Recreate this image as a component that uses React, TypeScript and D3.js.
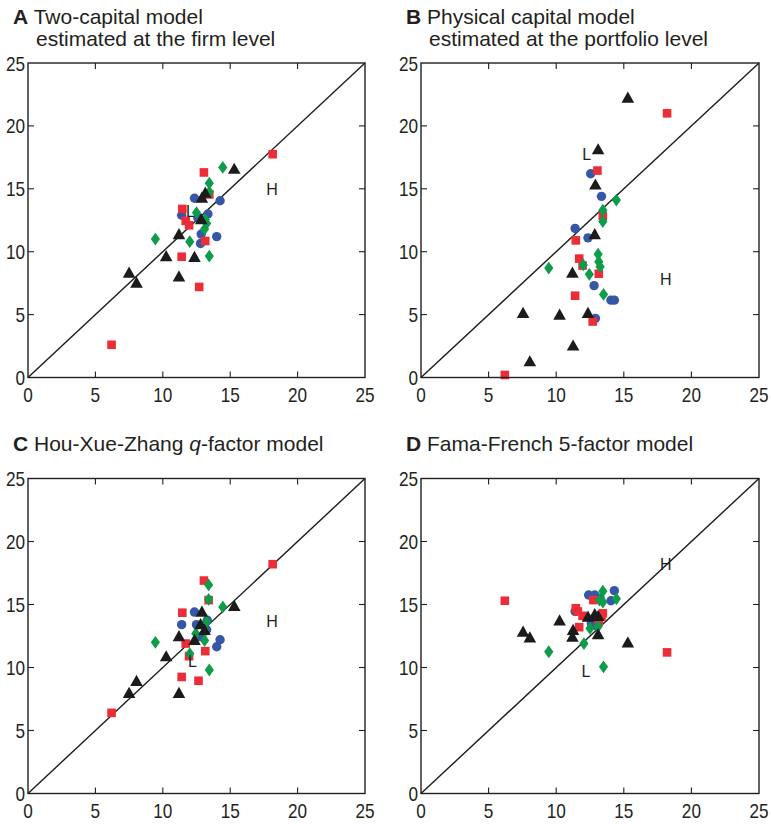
import React from 'react';
import * as d3 from 'd3';

type P = [number, number];

const tickValues = [0, 5, 10, 15, 20, 25];

// Panel A: Two-capital model, firm level
const aTriangles: P[] = [[15.3,16.6],[13.15,14.7],[12.9,14.3],[12.85,12.6],[11.2,11.4],[10.25,9.65],[12.35,9.6],[7.5,8.35],[8.05,7.55],[11.2,8.05]];
const aSquares: P[] = [[18.15,17.75],[13.05,16.3],[11.45,13.4],[11.7,12.45],[11.95,12.1],[13.45,14.55],[13.15,10.85],[11.4,9.6],[12.7,7.2],[6.2,2.6]];
const aCircles: P[] = [[12.35,14.25],[14.25,14.05],[11.4,12.9],[13.35,13.0],[12.6,12.7],[12.85,11.4],[14.0,11.2],[12.8,10.65]];
const aDiamonds: P[] = [[14.45,16.7],[13.45,15.45],[13.45,14.75],[12.5,13.1],[13.15,12.55],[13.25,12.25],[13.1,11.8],[9.45,11.0],[12.0,10.8],[13.45,9.65]];
const aLabels: [string, number, number][] = [['L',12.05,13.2],['H',18.1,14.95]];

// Panel B: Physical capital model, portfolio level
const bTriangles: P[] = [[15.3,22.25],[13.1,18.15],[12.9,15.35],[12.85,11.4],[11.2,8.35],[7.55,5.15],[10.25,5.0],[12.35,5.15],[11.25,2.55],[8.05,1.3]];
const bSquares: P[] = [[18.2,21.0],[13.05,16.45],[13.45,12.85],[11.45,10.9],[11.7,9.45],[13.15,8.25],[11.4,6.5],[12.7,4.45],[6.2,0.2],[11.95,8.9]];
const bCircles: P[] = [[12.55,16.2],[13.35,14.4],[11.4,11.85],[12.35,11.1],[12.8,7.3],[14.05,6.15],[14.3,6.15],[12.9,4.7]];
const bDiamonds: P[] = [[14.45,14.1],[13.45,13.3],[13.45,12.4],[9.45,8.7],[12.0,8.95],[12.45,8.2],[13.1,9.8],[13.15,9.2],[13.25,8.8],[13.5,6.6]];
const bLabels: [string, number, number][] = [['L',12.25,17.75],['H',18.1,7.8]];

// Panel C: Hou-Xue-Zhang q-factor model
const cTriangles: P[] = [[15.3,14.9],[12.9,14.45],[12.8,13.45],[13.1,13.0],[12.35,12.2],[11.2,12.5],[10.25,10.9],[8.05,8.95],[7.5,8.0],[11.2,8.0]];
const cSquares: P[] = [[18.15,18.2],[13.05,16.9],[13.4,15.35],[11.45,14.35],[11.7,11.9],[11.95,10.9],[13.15,11.3],[11.4,9.25],[12.65,8.95],[6.2,6.4]];
const cCircles: P[] = [[12.35,14.4],[11.4,13.4],[12.5,13.4],[13.3,13.75],[14.25,12.2],[14.0,11.65],[12.75,12.45],[13.25,13.0]];
const cDiamonds: P[] = [[13.4,16.55],[13.4,15.4],[14.45,14.8],[13.25,13.65],[12.45,12.7],[13.1,12.15],[9.45,12.0],[12.0,11.1],[13.45,9.8],[13.15,12.9]];
const cLabels: [string, number, number][] = [['L',12.2,10.5],['H',18.1,13.7]];

// Panel D: Fama-French 5-factor model
const dTriangles: P[] = [[7.55,12.85],[8.05,12.4],[10.25,13.75],[11.25,13.0],[11.2,12.45],[12.35,14.05],[12.85,14.25],[13.1,14.1],[13.1,12.65],[15.3,12.0]];
const dSquares: P[] = [[6.2,15.3],[18.2,11.2],[12.75,15.35],[11.45,14.7],[11.6,14.45],[11.95,14.1],[13.35,14.05],[11.7,13.2],[13.15,13.65],[13.45,14.3]];
const dCircles: P[] = [[12.4,15.75],[12.85,15.75],[14.3,16.1],[14.05,15.3],[11.4,14.45],[13.25,15.5],[13.0,13.3],[12.6,13.5]];
const dDiamonds: P[] = [[13.45,16.05],[13.2,15.35],[13.45,15.2],[14.45,15.45],[12.5,13.1],[13.1,13.25],[12.05,11.9],[9.45,11.25],[13.5,10.05]];
const dLabels: [string, number, number][] = [['L',12.2,9.75],['H',18.1,18.25]];

const RED = '#ec2d37';
const BLUE = '#3656a6';
const GREEN = '#0d9c4a';
const BLACK = '#1b1b1b';
const INK = '#231f20';
const FONT = '"Liberation Sans", Arial, Helvetica, sans-serif';

interface PanelDef {
  letter: string;
  titleParts: { t: string; italic?: boolean }[];
  line2?: string;
  left: number; right: number; top: number; bottom: number;
  titleX: number; titleY: number;
  tri: P[]; sq: P[]; circ: P[]; dia: P[];
  labels: [string, number, number][];
}

const panels: PanelDef[] = [
  { letter: 'A', titleParts: [{ t: ' Two-capital model' }], line2: 'estimated at the firm level',
    left: 28, right: 365, top: 63, bottom: 377.5, titleX: 13, titleY: 24,
    tri: aTriangles, sq: aSquares, circ: aCircles, dia: aDiamonds, labels: aLabels },
  { letter: 'B', titleParts: [{ t: ' Physical capital model' }], line2: 'estimated at the portfolio level',
    left: 421, right: 759, top: 63, bottom: 377.5, titleX: 406, titleY: 24,
    tri: bTriangles, sq: bSquares, circ: bCircles, dia: bDiamonds, labels: bLabels },
  { letter: 'C', titleParts: [{ t: ' Hou-Xue-Zhang ' }, { t: 'q', italic: true }, { t: '-factor model' }],
    left: 28, right: 365, top: 478.5, bottom: 793.5, titleX: 13, titleY: 451,
    tri: cTriangles, sq: cSquares, circ: cCircles, dia: cDiamonds, labels: cLabels },
  { letter: 'D', titleParts: [{ t: ' Fama-French 5-factor model' }],
    left: 421, right: 759, top: 478.5, bottom: 793.5, titleX: 406, titleY: 451,
    tri: dTriangles, sq: dSquares, circ: dCircles, dia: dDiamonds, labels: dLabels },
];

function Panel({ p }: { p: PanelDef }) {
  const x = d3.scaleLinear().domain([0, 25]).range([p.left, p.right]);
  const y = d3.scaleLinear().domain([0, 25]).range([p.bottom, p.top]);
  const line = d3.line<P>().x(d => x(d[0])).y(d => y(d[1]));
  const tl = 6;
  const triPath = (d: P) => {
    const cx = x(d[0]), cy = y(d[1]);
    return `M${cx - 6.3},${cy + 5.2}L${cx + 6.3},${cy + 5.2}L${cx},${cy - 6}Z`;
  };
  const diaPath = (d: P) => {
    const cx = x(d[0]), cy = y(d[1]);
    return `M${cx},${cy - 6.4}L${cx + 4.6},${cy}L${cx},${cy + 6.4}L${cx - 4.6},${cy}Z`;
  };
  return (
    <g>
      <text x={p.titleX} y={p.titleY} fontFamily={FONT} fontSize={21} fill={INK}>
        <tspan fontWeight="bold">{p.letter}</tspan>
        {p.titleParts.map((tp, i) => (
          <tspan key={i} fontStyle={tp.italic ? 'italic' : 'normal'} style={{ whiteSpace: 'pre' }}>{tp.t}</tspan>
        ))}
      </text>
      {p.line2 && (
        <text x={p.titleX + 23} y={p.titleY + 22} fontFamily={FONT} fontSize={21} fill={INK}>{p.line2}</text>
      )}
      {/* diagonal */}
      <path d={line([[0, 0], [25, 25]]) || ''} stroke={BLACK} strokeWidth={1.4} fill="none" />
      {/* markers */}
      {p.circ.map((d, i) => <circle key={'c' + i} cx={x(d[0])} cy={y(d[1])} r={4.7} fill={BLUE} />)}
      {p.sq.map((d, i) => <rect key={'s' + i} x={x(d[0]) - 4.3} y={y(d[1]) - 4.3} width={8.6} height={8.6} fill={RED} />)}
      {p.dia.map((d, i) => <path key={'d' + i} d={diaPath(d)} fill={GREEN} />)}
      {p.tri.map((d, i) => <path key={'t' + i} d={triPath(d)} fill={BLACK} />)}
      {p.labels.map(([t, lx, ly], i) => (
        <text key={'l' + i} x={x(lx)} y={y(ly) + 6} textAnchor="middle" fontFamily={FONT} fontSize={16} fill={INK}>{t}</text>
      ))}
      {/* box */}
      <rect x={p.left} y={p.top} width={p.right - p.left} height={p.bottom - p.top} fill="none" stroke={INK} strokeWidth={1.4} />
      {/* ticks */}
      {tickValues.slice(1, -1).map(v => (
        <g key={'tk' + v} stroke={INK} strokeWidth={1.1}>
          <line x1={x(v)} x2={x(v)} y1={p.bottom} y2={p.bottom - tl} />
          <line x1={x(v)} x2={x(v)} y1={p.top} y2={p.top + tl} />
          <line x1={p.left} x2={p.left + tl} y1={y(v)} y2={y(v)} />
          <line x1={p.right} x2={p.right - tl} y1={y(v)} y2={y(v)} />
        </g>
      ))}
      {/* tick labels */}
      {tickValues.map(v => (
        <g key={'xl' + v} transform={`translate(${x(v)},${p.bottom + 24}) scale(0.86,1)`}>
          <text textAnchor="middle" fontFamily={FONT} fontSize={20} fill={INK}>{v}</text>
        </g>
      ))}
      {tickValues.map(v => (
        <g key={'yl' + v} transform={`translate(${p.left - 3},${y(v) + 7.5}) scale(0.86,1)`}>
          <text textAnchor="end" fontFamily={FONT} fontSize={20} fill={INK}>{v}</text>
        </g>
      ))}
    </g>
  );
}

export default function App() {
  return (
    <div style={{ position: 'absolute', left: 0, top: 0 }}>
      <svg width={771} height={824} viewBox="0 0 771 824" style={{ display: 'block', background: '#fff' }}>
        {panels.map(p => <Panel key={p.letter} p={p} />)}
      </svg>
    </div>
  );
}
